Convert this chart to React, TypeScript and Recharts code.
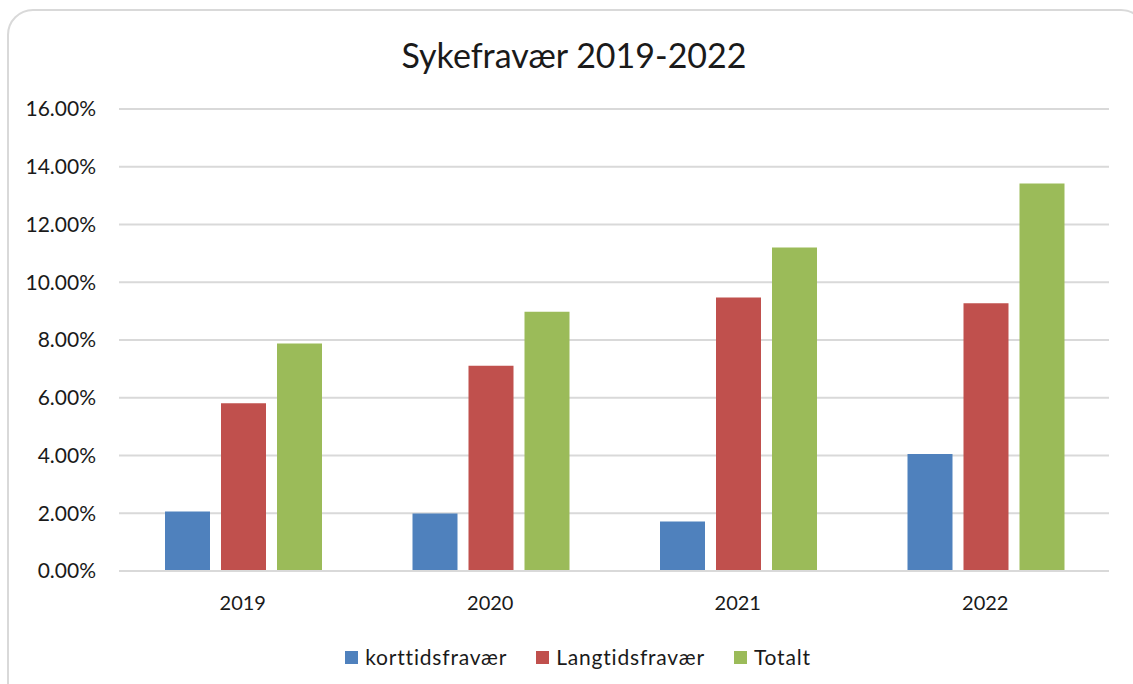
import React from "react";
import { BarChart, Bar, XAxis, YAxis, CartesianGrid } from "recharts";

// values as fractions
const years = ["2019", "2020", "2021", "2022"];
const korttid = [0.0206, 0.0199, 0.0171, 0.0405];
const langtid = [0.0581, 0.0711, 0.0947, 0.0927];
const totalt = [0.0788, 0.0898, 0.112, 0.1342];
const yTicks = [0, 0.02, 0.04, 0.06, 0.08, 0.1, 0.12, 0.14, 0.16];

const series = [
  { key: "korttid", name: "korttidsfravær", color: "#4f81bd" },
  { key: "langtid", name: "Langtidsfravær", color: "#c0504d" },
  { key: "totalt", name: "Totalt", color: "#9bbb59" },
];

const data = years.map((year, i) => ({
  year,
  korttid: korttid[i],
  langtid: langtid[i],
  totalt: totalt[i],
}));

const FONT = "Lato, 'Open Sans', sans-serif";

export default function App() {
  return (
    <div
      style={{
        position: "fixed",
        left: 0,
        top: 0,
        width: 1133,
        height: 684,
        overflow: "hidden",
        background: "#fff",
        fontFamily: FONT,
      }}
    >
      {/* card border */}
      <div
        style={{
          position: "absolute",
          left: 7,
          top: 9,
          width: 1140,
          height: 720,
          border: "2px solid #d9d9d9",
          borderRadius: 26,
          boxSizing: "border-box",
        }}
      />

      {/* title */}
      <div
        style={{
          position: "absolute",
          left: 0,
          top: 35,
          width: 1148,
          textAlign: "center",
          fontSize: 34,
          lineHeight: "40px",
          color: "#1a1a1a",
        }}
      >
        Sykefravær 2019-2022
      </div>

      <div style={{ position: "absolute", left: 0, top: 0 }}>
        <BarChart
          width={1133}
          height={684}
          data={data}
          margin={{ top: 109, right: 24, bottom: 83, left: 0 }}
          barCategoryGap={46}
          barGap={11}
        >
          <CartesianGrid
            vertical={false}
            stroke="#d9d9d9"
            strokeWidth={2}
          />
          <XAxis
            dataKey="year"
            height={30}
            axisLine={{ stroke: "#d9d9d9", strokeWidth: 2 }}
            tickLine={false}
            tickMargin={19}
            tick={{ fill: "#1a1a1a", fontSize: 20, fontFamily: FONT }}
          />
          <YAxis
            width={119}
            domain={[0, 0.16]}
            ticks={yTicks}
            axisLine={false}
            tickLine={false}
            tickMargin={17}
            tickFormatter={(v: number) => (v * 100).toFixed(2) + "%"}
            tick={{ fill: "#1a1a1a", fontSize: 21, fontFamily: FONT }}
          />
          {series.map((s) => (
            <Bar
              key={s.key}
              dataKey={s.key}
              name={s.name}
              fill={s.color}
              isAnimationActive={false}
            />
          ))}
        </BarChart>
      </div>

      {/* legend */}
      <div
        style={{
          position: "absolute",
          left: 0,
          top: 643,
          width: 1156,
          display: "flex",
          justifyContent: "center",
          gap: 29,
          fontSize: 21,
          lineHeight: "28px",
          letterSpacing: 0.8,
          color: "#1a1a1a",
        }}
      >
        {series.map((s) => (
          <div key={s.key} style={{ display: "flex", alignItems: "center" }}>
            <span
              style={{
                display: "inline-block",
                width: 13,
                height: 13,
                background: s.color,
                marginRight: 7,
              }}
            />
            {s.name}
          </div>
        ))}
      </div>
    </div>
  );
}
